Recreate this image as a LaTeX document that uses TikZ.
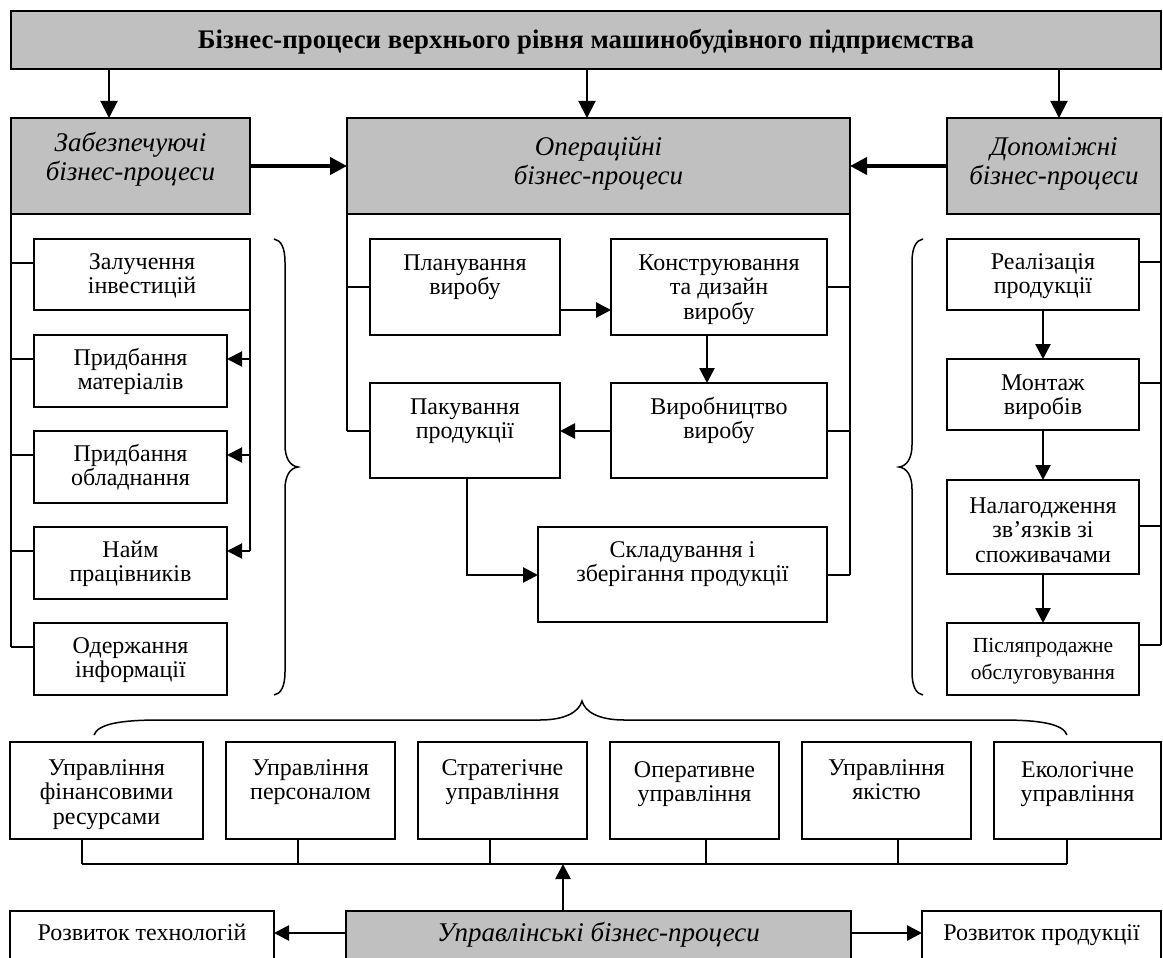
\documentclass[tikz,border=0pt]{standalone}
\usepackage{fontspec}
\setmainfont{Liberation Serif}
\usetikzlibrary{arrows.meta,calc}
\definecolor{boxgrey}{RGB}{192,192,192}
\newcommand\fnorm{\fontsize{24}{24.5}\selectfont}
\newcommand\fsmall{\fontsize{21.5}{27}\selectfont}
\newcommand\fital{\fontsize{27}{29.5}\selectfont\itshape}
\newcommand\ftitle{\fontsize{26.8}{28}\selectfont\bfseries}
\newcommand\ml[1]{\begin{tabular}[t]{@{}c@{}}#1\end{tabular}}
\begin{document}
\begin{tikzpicture}[x=1pt,y=-1pt,
  box/.style={draw, line width=1.7pt, fill=white, anchor=north west,
              inner sep=0pt, outer sep=0pt, font=\fnorm},
  gbox/.style={box, fill=boxgrey, font=\fital},
  sz/.code n args={3}{%
    \pgfmathsetmacro\szdepth{#2-#3}%
    \edef\sznext{\noexpand\tikzset{minimum width=#1pt, minimum height=#2pt,
      text height=#3pt, text depth=\szdepth pt}}%
    \sznext},
  ln/.style={line width=1.5pt},
  curly/.style={line width=1.5pt},
  arrD/.style={line width=2pt, -{Triangle[length=17pt,width=17pt]}},
  arrB/.style={line width=4pt, -{Triangle[length=17pt,width=17pt]}},
  arrM/.style={line width=2.7pt, -{Triangle[length=15pt,width=15pt]}},
  arrS/.style={line width=2pt, -{Triangle[length=15pt,width=15pt]}}]

\useasboundingbox (0,0) rectangle (1163,958);
\clip (0,0) rectangle (1163,958);

% ---------- top level ----------
\node[gbox, font=\ftitle, sz={1150}{58}{38}] (top) at (11,11)
  {Бізнес-процеси верхнього рівня машинобудівного підприємства};

\node[gbox, sz={239}{96}{33}] (gL) at (11,118) {\ml{Забезпечуючі\\бізнес-процеси}};
\node[gbox, sz={503}{96}{37}] (gC) at (347,118) {\ml{Операційні\\бізнес-процеси}};
\node[gbox, sz={214}{96}{37}] (gR) at (947,118) {\ml{Допоміжні\\бізнес-процеси}};

% ---------- supporting processes ----------
\node[box, sz={216}{71}{30}] (z1) at (34,239) {\ml{Залучення\\інвестицій}};
\node[box, sz={193}{72}{30}] (z2) at (34,335) {\ml{Придбання\\матеріалів}};
\node[box, sz={193}{72}{30}] (z3) at (34,431) {\ml{Придбання\\обладнання}};
\node[box, sz={193}{72}{30}] (z4) at (34,527) {\ml{Найм\\працівників}};
\node[box, sz={193}{72}{30}] (z5) at (34,623) {\ml{Одержання\\інформації}};

% ---------- operational processes ----------
\node[box, sz={190}{96}{31}] (pl) at (370,239) {\ml{Планування\\виробу}};
\node[box, sz={216}{96}{31}] (ko) at (611,239) {\ml{Конструювання\\та дизайн\\виробу}};
\node[box, sz={190}{95}{31}] (pk) at (370,383) {\ml{Пакування\\продукції}};
\node[box, sz={216}{95}{31}] (vy) at (611,383) {\ml{Виробництво\\виробу}};
\node[box, sz={289}{95}{30}] (sk) at (538,527) {\ml{Складування і\\зберігання продукції}};

% ---------- auxiliary processes ----------
\node[box, sz={192}{71}{30}] (r1) at (947,239) {\ml{Реалізація\\продукції}};
\node[box, sz={192}{71}{31}] (r2) at (947,359) {\ml{Монтаж\\виробів}};
\node[box, sz={192}{94}{33}] (r3) at (947,480) {\ml{Налагодження\\зв’язків зі\\споживачами}};
\node[box, font=\fsmall, sz={192}{72}{29}] (r4) at (947,623) {\ml{Післяпродажне\\обслуговування}};

% ---------- management functions ----------
\node[box, sz={193}{97}{33}] (m1) at (10,742) {\ml{Управління\\фінансовими\\ресурсами}};
\node[box, sz={169}{97}{33}] (m2) at (226,742) {\ml{Управління\\персоналом}};
\node[box, sz={169}{97}{33}] (m3) at (418,742) {\ml{Стратегічне\\управління}};
\node[box, sz={169}{97}{35}] (m4) at (610,742) {\ml{Оперативне\\управління}};
\node[box, sz={169}{97}{33}] (m5) at (802,742) {\ml{Управління\\якістю}};
\node[box, sz={167}{97}{35}] (m6) at (994,742) {\ml{Екологічне\\управління}};

% ---------- bottom row ----------
\node[box, sz={264}{80}{29}] (rt) at (10,911) {Розвиток технологій};
\node[gbox, sz={505}{80}{30}] (gB) at (346,911) {Управлінські бізнес-процеси};
\node[box, sz={239}{80}{29}] (rp) at (922,911) {Розвиток продукції};

% ---------- arrows from the top box ----------
\coordinate (xL) at (109,0);
\coordinate (xC) at (587,0);
\coordinate (xR) at (1059,0);
\draw[arrD] (top.south -| xL) -- (gL.north -| xL);
\draw[arrD] (top.south -| xC) -- (gC.north -| xC);
\draw[arrD] (top.south -| xR) -- (gR.north -| xR);
\draw[arrB] (gL.east) -- (gC.west);
\draw[arrB] (gR.west) -- (gC.east);

% ---------- supporting column links ----------
\foreach \n in {1,...,5} \coordinate (zt\n) at ($(z\n.north west)+(0,24)$);
\draw[ln] (gL.south west) -- (gL.south west |- zt5);
\foreach \n in {1,...,5} \draw[ln] (gL.south west |- zt\n) -- (zt\n);
\foreach \n in {2,3,4} \coordinate (zr\n) at ($(z\n.north east)+(0,24)$);
\draw[ln] (z1.south east) -- (z1.south east |- zr4);
\foreach \n in {2,3,4} \draw[arrS] (z1.south east |- zr\n) -- (zr\n);

% ---------- operational column links ----------
\coordinate (plt) at ($(pl.north west)+(0,48)$);
\coordinate (pkt) at ($(pk.north west)+(0,48)$);
\draw[ln] (gC.south west) -- (gC.south west |- pkt);
\draw[ln] (gC.south west |- plt) -- (plt);
\draw[ln] (gC.south west |- pkt) -- (pkt);
\coordinate (kot) at ($(ko.north east)+(0,48)$);
\coordinate (vyt) at ($(vy.north east)+(0,48)$);
\coordinate (skt) at ($(sk.north east)+(0,48)$);
\draw[ln] (gC.south east) -- (gC.south east |- skt);
\foreach \c in {kot,vyt,skt} \draw[ln] (\c) -- (gC.south east |- \c);
\coordinate (pla) at ($(pl.north east)+(0,71)$);
\draw[arrM] (pla) -- (ko.west |- pla);
\coordinate (kx) at (707,0);
\draw[arrM] (ko.south -| kx) -- (vy.north -| kx);
\draw[arrM] (vy.west |- vyt) -- (pk.east |- vyt);
\coordinate (px) at (467,0);
\draw[arrM] (pk.south -| px) |- (sk.west |- skt);

% ---------- auxiliary column links ----------
\coordinate (rk1) at ($(r1.north east)+(0,23)$);
\coordinate (rk2) at ($(r2.north east)+(0,24)$);
\coordinate (rk3) at ($(r3.north east)+(0,46)$);
\coordinate (rk4) at ($(r4.north east)+(0,22)$);
\draw[ln] (gR.south east) -- (gR.south east |- rk4);
\foreach \n in {1,...,4} \draw[ln] (rk\n) -- (gR.south east |- rk\n);
\coordinate (rx) at (1043,0);
\draw[arrM] (r1.south -| rx) -- (r2.north -| rx);
\draw[arrM] (r2.south -| rx) -- (r3.north -| rx);
\draw[arrM] (r3.south -| rx) -- (r4.north -| rx);

% ---------- braces ----------
\draw[curly] (274,239) .. controls (281,240) and (285,248) .. (285,262)
  -- (285,445) .. controls (285,458) and (290,466) .. (298,467)
  .. controls (290,468) and (285,476) .. (285,489)
  -- (285,672) .. controls (285,686) and (281,694) .. (274,695);
\draw[curly] (923,239) .. controls (916,240) and (912,248) .. (912,262)
  -- (912,445) .. controls (912,458) and (907,466) .. (899,467)
  .. controls (907,468) and (912,476) .. (912,489)
  -- (912,672) .. controls (912,686) and (916,694) .. (923,695);
\draw[curly] (94,735) .. controls (98,724) and (120,720) .. (160,720)
  -- (540,720) .. controls (565,720) and (579,712) .. (582,701)
  .. controls (585,712) and (599,720) .. (624,720)
  -- (1001,720) .. controls (1041,720) and (1063,724) .. (1067,735);

% ---------- management bus ----------
\coordinate (bL) at (82,864);
\coordinate (bR) at (1067,864);
\coordinate (bus) at (563,864);
\draw[ln] (bL) -- (bR);
\foreach \x/\m in {82/m1,298/m2,490/m3,706/m4,898/m5,1067/m6}
  \draw[ln] (\m.south -| \x,0) -- (\x,864);
\draw[arrM] (gB.north -| bus) -- (bus);

\coordinate (ya) at (0,933);
\draw[arrM] (gB.west |- ya) -- (rt.east |- ya);
\draw[arrM] (gB.east |- ya) -- (rp.west |- ya);
\end{tikzpicture}
\end{document}
